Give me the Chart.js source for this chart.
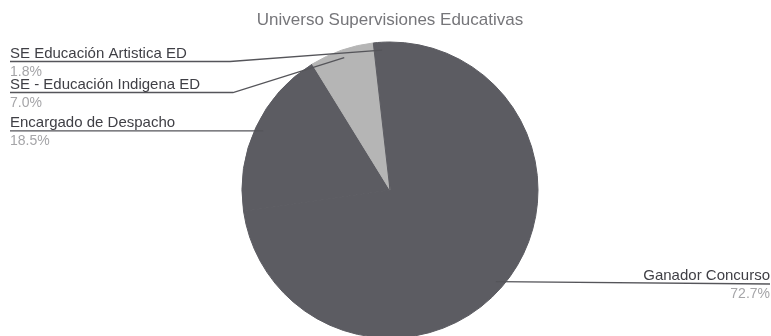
<!DOCTYPE html>
<html>
<head>
<meta charset="utf-8">
<script src="https://cdn.jsdelivr.net/npm/chart.js@4.4.1/dist/chart.umd.min.js"></script>
<style>
  html, body { margin: 0; padding: 0; background: #fff; overflow: hidden; }
  #wrap { width: 771px; height: 340px; filter: blur(0.35px); }
</style>
</head>
<body>
<div id="wrap"><canvas id="pie" width="771" height="340"></canvas></div>
<script>
// Datos del gráfico
const categorias = ['Ganador Concurso', 'Encargado de Despacho', 'SE - Educación Indigena ED', 'SE Educación Artistica ED'];
const porcentajes = [72.7, 18.5, 7.0, 1.8];
const colores = ['#5c5c62', '#5c5c62', '#b5b5b5', '#5c5c62'];

// Posición de cada etiqueta: lado, altura de la línea y punto de quiebre
const etiquetas = [
  { lado: 'der', lineaY: 284, quiebreX: null },
  { lado: 'izq', lineaY: null, quiebreX: null },
  { lado: 'izq', lineaY: 92.5, quiebreX: 233 },
  { lado: 'izq', lineaY: 61.5, quiebreX: 230 }
];

const FUENTE = '"Liberation Sans", Arial, sans-serif';

// Plugin para dibujar las etiquetas externas con su línea guía
const etiquetasExternas = {
  id: 'etiquetasExternas',
  afterDatasetsDraw(chart) {
    const ctx = chart.ctx;
    const meta = chart.getDatasetMeta(0);
    const total = porcentajes.reduce((a, b) => a + b, 0);
    ctx.save();
    meta.data.forEach((arc, i) => {
      const p = arc.getProps(['x', 'y', 'startAngle', 'endAngle', 'outerRadius'], true);
      const medio = (p.startAngle + p.endAngle) / 2;
      const r = p.outerRadius - 8;
      const ax = p.x + Math.cos(medio) * r;
      const ay = p.y + Math.sin(medio) * r;
      const cfg = etiquetas[i];
      const lineaY = cfg.lineaY !== null ? cfg.lineaY : ay;
      const borde = cfg.lado === 'izq' ? 10 : 770;

      ctx.strokeStyle = '#55555a';
      ctx.lineWidth = 1.3;
      ctx.beginPath();
      ctx.moveTo(borde, lineaY);
      if (cfg.quiebreX !== null) ctx.lineTo(cfg.quiebreX, lineaY);
      ctx.lineTo(ax, ay);
      ctx.stroke();

      ctx.textAlign = cfg.lado === 'izq' ? 'left' : 'right';
      ctx.textBaseline = 'alphabetic';
      ctx.font = '15px ' + FUENTE;
      ctx.fillStyle = '#3f3f45';
      ctx.fillText(categorias[i], borde, lineaY - 4);
      ctx.font = '14px ' + FUENTE;
      ctx.fillStyle = '#a5a5a8';
      ctx.fillText((porcentajes[i] / total * 100).toFixed(1) + '%', borde, lineaY + 14);
    });
    ctx.restore();
  }
};

new Chart(document.getElementById('pie'), {
  type: 'pie',
  data: {
    labels: categorias,
    datasets: [{
      data: porcentajes,
      backgroundColor: colores,
      borderColor: colores,
      borderWidth: 1,
      hoverOffset: 0
    }]
  },
  options: {
    responsive: false,
    animation: false,
    radius: 148,
    layout: { padding: { top: 0, bottom: 2, left: 242, right: 233 } },
    plugins: {
      legend: { display: false },
      tooltip: { enabled: false },
      title: {
        display: true,
        text: 'Universo Supervisiones Educativas',
        color: '#76767a',
        font: { family: FUENTE, size: 17, weight: 'normal' },
        padding: { top: 10, bottom: 11.6 }
      }
    }
  },
  plugins: [etiquetasExternas]
});
</script>
</body>
</html>
